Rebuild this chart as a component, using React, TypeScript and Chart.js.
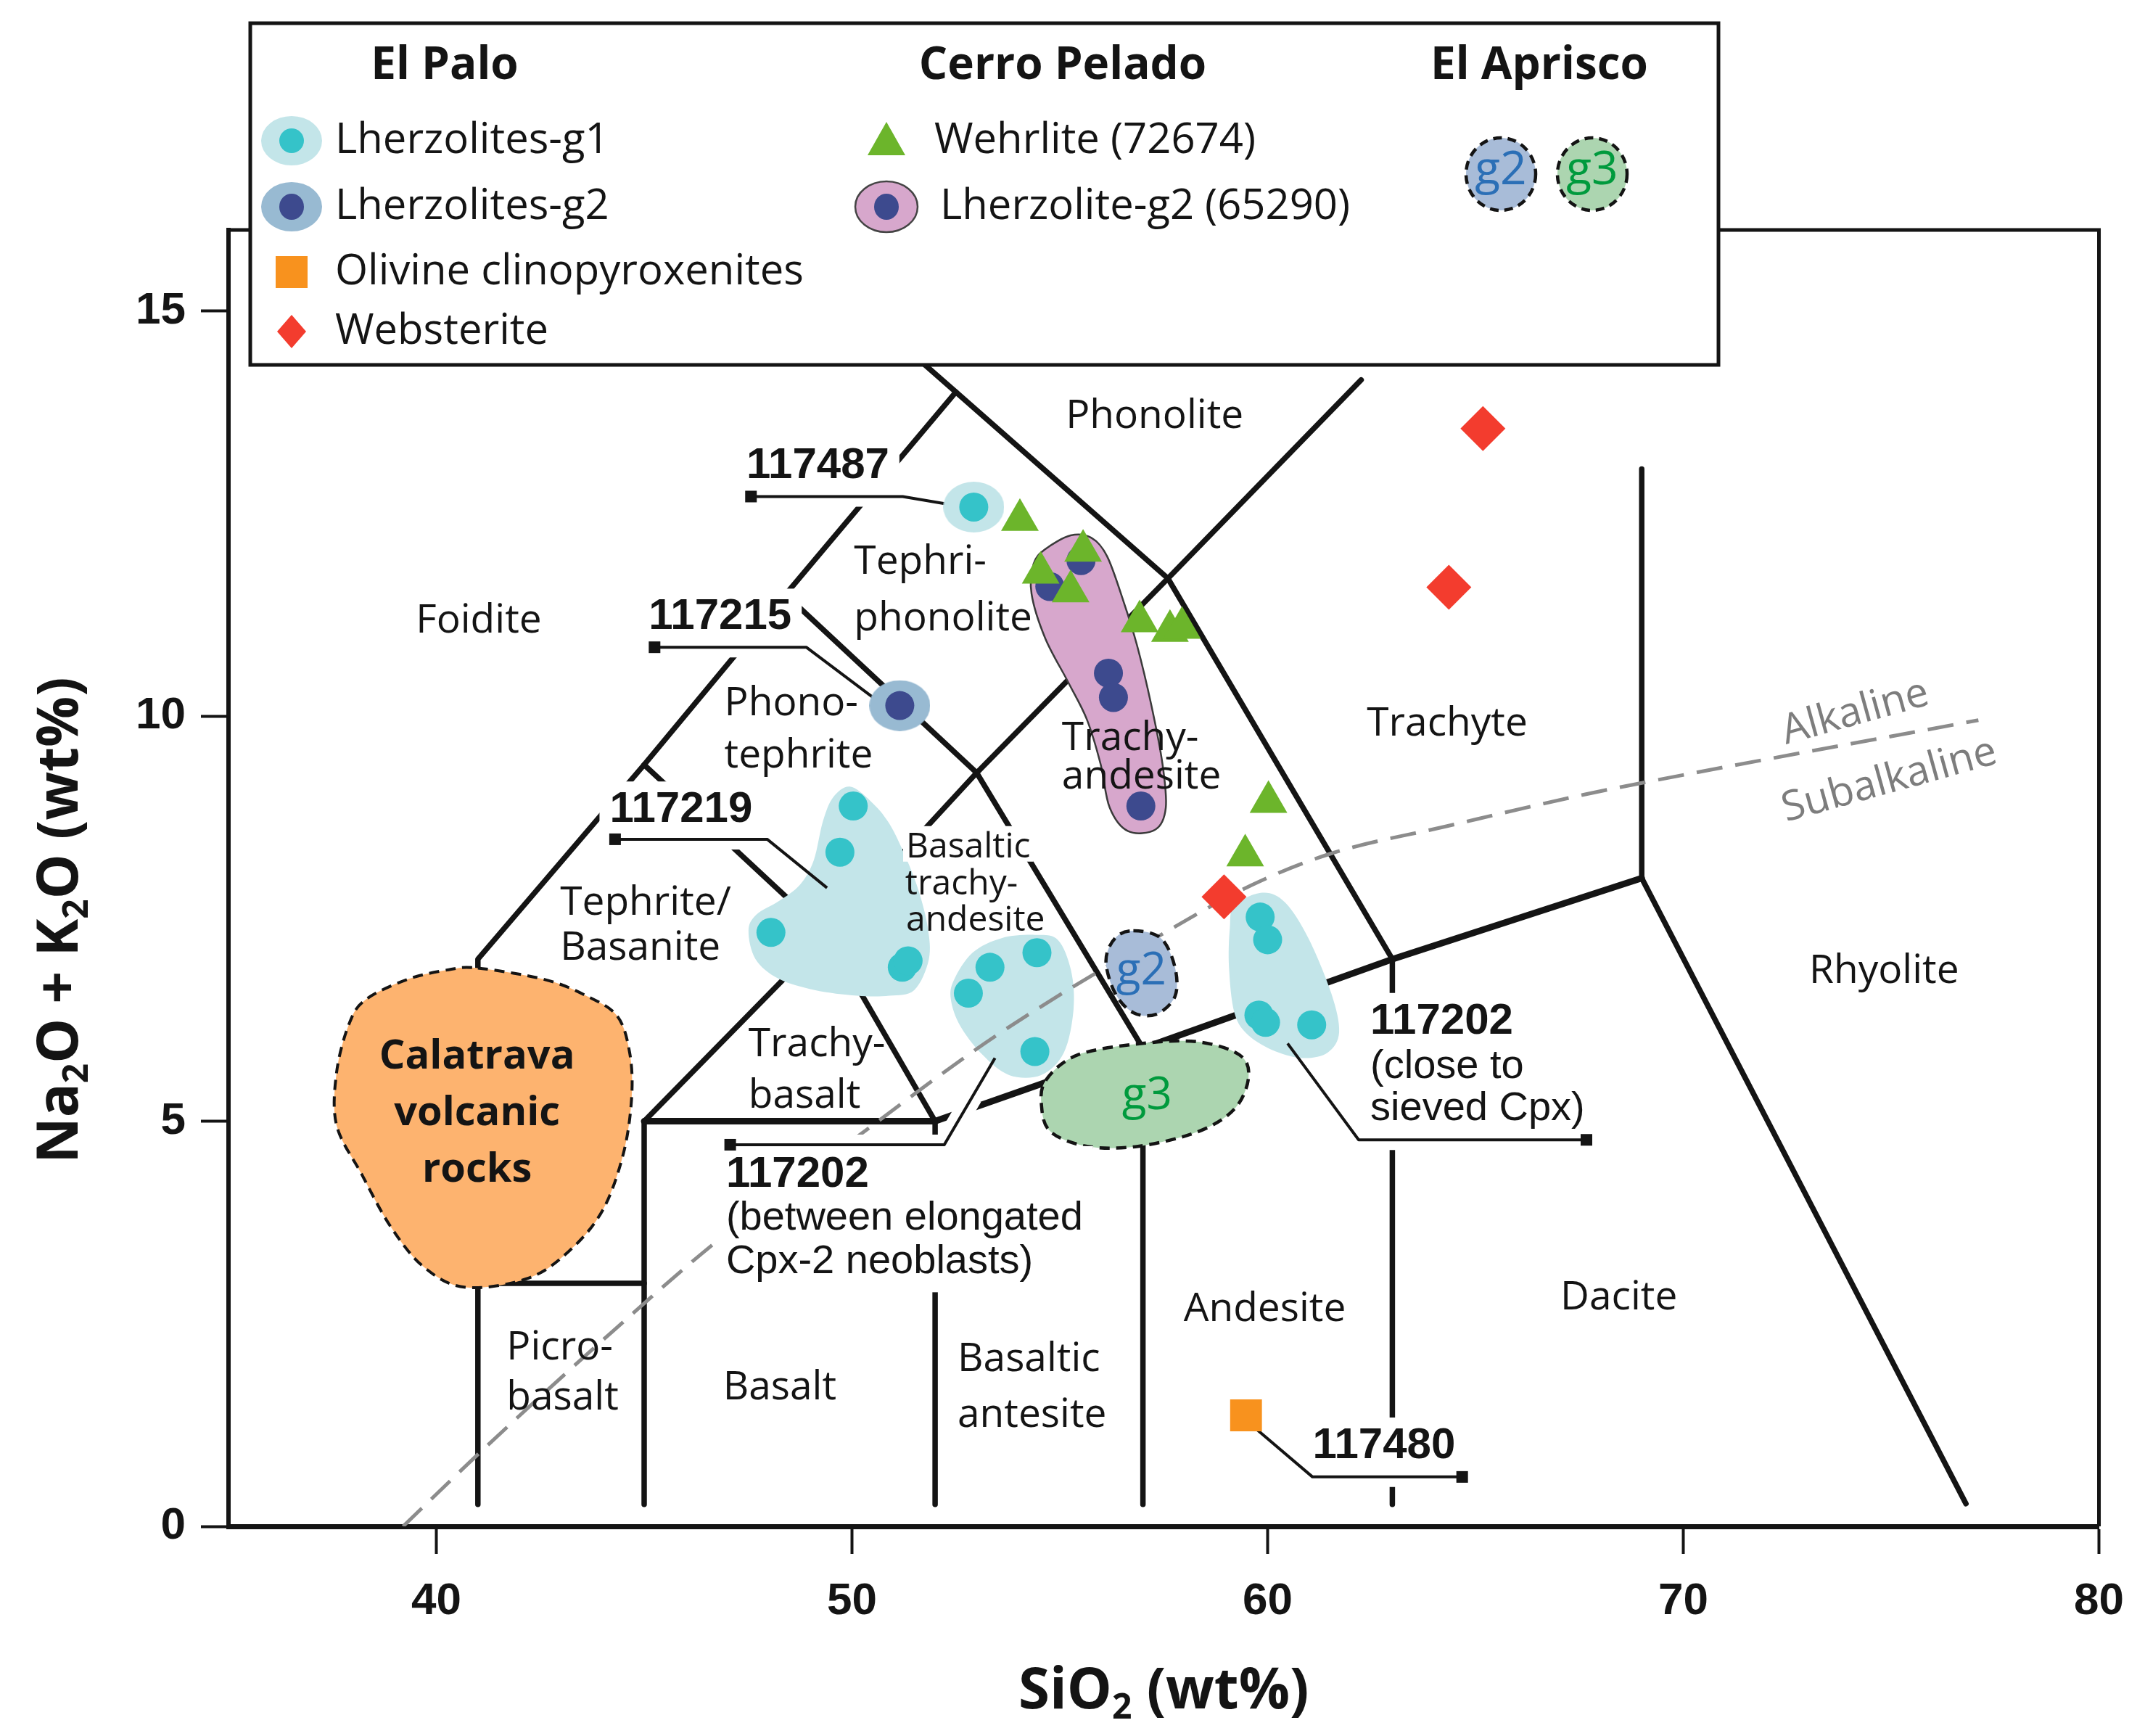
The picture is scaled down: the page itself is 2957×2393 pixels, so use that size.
import React, { useEffect, useRef } from 'react';
import { Chart, registerables } from 'chart.js';

Chart.register(...registerables);

const W = 2957;
const H = 2393;

// ---------- axes ----------
const xTickValues = [40, 50, 60, 70, 80];
const yTickValues = [0, 5, 10, 15];
const xLimits = [35, 80];
const yLimits = [0, 16];

// ---------- legend names ----------
const groupNames = ['El Palo', 'Cerro Pelado', 'El Aprisco'];
const seriesNames = [
  'Lherzolites-g1',
  'Lherzolites-g2',
  'Olivine clinopyroxenites',
  'Websterite',
  'Wehrlite (72674)',
  'Lherzolite-g2 (65290)',
];
const apriscoGroups = ['g2', 'g3'];

// ---------- samples: [SiO2, Na2O+K2O] ----------
const elPaloLherzG1 = [
  [52.93, 12.58], [50.03, 8.89], [49.71, 8.32], [48.05, 7.33], [51.21, 6.9], [51.35, 6.98],
  [54.45, 7.08], [53.32, 6.9], [52.8, 6.58], [54.4, 5.86],
  [59.82, 7.52], [60.0, 7.24], [59.79, 6.31], [59.95, 6.22], [61.06, 6.19],
];
const elPaloLherzG2 = [[51.15, 10.13]];
const elPaloOlCpx = [[59.48, 1.37]];
const elPaloWebsterite = [[65.18, 13.55], [64.36, 11.59], [58.95, 7.77]];
const cerroWehrlite = [
  [54.04, 12.42], [55.56, 12.04], [54.54, 11.77], [55.26, 11.54], [56.92, 11.17],
  [57.65, 11.05], [57.94, 11.09], [60.02, 8.94], [59.46, 8.28],
];
const cerroLherzG2 = [[55.51, 11.92], [54.76, 11.6], [56.17, 10.53], [56.29, 10.23], [56.95, 8.89]];
const haloG1 = [[52.93, 12.58]];
const haloG2 = [[51.15, 10.13]];

// ---------- TAS field boundaries ----------
const tasLines = [
  [[41, 0.27], [41, 7], [45, 9.4], [48.4, 11.5], [52.5, 14]],
  [[45, 0.27], [45, 5]],
  [[41, 3], [45, 3]],
  [[52, 0.27], [52, 5]],
  [[57, 0.27], [57, 5.9]],
  [[63, 0.27], [63, 7]],
  [[45, 9.4], [49.4, 7.3], [52, 5]],
  [[48.4, 11.5], [53, 9.3], [57, 5.9]],
  [[50.9, 14.72], [52.5, 14], [57.6, 11.7], [63, 7]],
  [[45, 5], [49.4, 7.3], [53, 9.3], [57.6, 11.7], [62.25, 14.15]],
  [[69, 8], [69, 13.05]],
  [[69, 8], [76.8, 0.28]],
];
const tasMainChain = [[45, 5], [52, 5], [57, 5.9], [63, 7], [69, 8]];
const alkalineLine = [
  [39.2, 0], [41.15, 0.96], [44.25, 2.41], [46.8, 3.54], [50.1, 4.8], [53.45, 6.05],
  [57.3, 7.26], [59.6, 7.91], [61.5, 8.3], [64.3, 8.64], [67.6, 9.03], [68.85, 9.16], [77.1, 9.95],
];

// ---------- field outlines ----------
const outlineG1Left = [
  [49.95, 9.13], [50.45, 8.95], [50.89, 8.68], [51.3, 8.25], [51.6, 7.85], [51.82, 7.4], [51.85, 7.0],
  [51.5, 6.62], [50.9, 6.55], [50.12, 6.55], [49.1, 6.62], [48.23, 6.76], [47.68, 7.0], [47.51, 7.35],
  [47.7, 7.55], [48.25, 7.72], [48.75, 7.92], [49.08, 8.22], [49.3, 8.7], [49.55, 9.0],
];
const outlineG1Mid = [
  [52.45, 6.74], [52.9, 7.08], [53.6, 7.26], [54.4, 7.3], [54.95, 7.24], [55.27, 6.86], [55.33, 6.38],
  [55.1, 5.85], [54.55, 5.57], [53.78, 5.57], [53.12, 5.83], [52.6, 6.18], [52.38, 6.5],
];
const outlineG1Right = [
  [59.2, 7.66], [59.87, 7.82], [60.42, 7.7], [60.98, 7.26], [61.53, 6.58], [61.72, 6.1], [61.45, 5.85],
  [60.87, 5.78], [60.2, 5.86], [59.54, 6.06], [59.2, 6.34], [59.07, 6.9], [59.09, 7.38],
];
const outlinePink = [
  [54.65, 12.06], [55.26, 12.23], [55.76, 12.2], [56.14, 11.97], [56.53, 11.42], [56.86, 10.87],
  [57.2, 10.14], [57.47, 9.41], [57.55, 8.87], [57.3, 8.6], [56.64, 8.58], [56.2, 8.87], [55.98, 9.41],
  [55.65, 9.96], [55.2, 10.42], [54.65, 10.96], [54.32, 11.51], [54.37, 11.88],
];
const outlineCalatrava = [
  [41.0, 6.89], [42.6, 6.75], [43.6, 6.55], [44.35, 6.3], [44.65, 5.85], [44.7, 5.3], [44.5, 4.6],
  [44.0, 3.9], [43.2, 3.4], [42.2, 3.06], [40.7, 2.95], [39.7, 3.2], [38.9, 3.7], [38.2, 4.35],
  [37.6, 4.95], [37.6, 5.6], [37.9, 6.2], [38.3, 6.5], [39.3, 6.75], [40.3, 6.87],
];
const outlineApriscoG2 = [
  [56.77, 7.35], [57.43, 7.26], [57.77, 6.9], [57.77, 6.54], [57.32, 6.32], [56.77, 6.34],
  [56.33, 6.58], [56.11, 6.98], [56.33, 7.26],
];
const outlineApriscoG3 = [
  [54.67, 5.51], [55.44, 5.82], [56.99, 5.96], [58.32, 5.98], [59.32, 5.82], [59.54, 5.54],
  [59.2, 5.15], [58.32, 4.87], [56.88, 4.69], [55.66, 4.69], [54.78, 4.87], [54.56, 5.19],
];
const apriscoTextAt = [[56.96, 6.85], [57.1, 5.31]];

// ---------- texts ----------
// [text, SiO2, alkali, align, kind]  kind: n = normal, s = small, sb = small on white
const regionLabels = [
  ['Phonolite', 57.28, 13.7, 'c', 'n'],
  ['Tephri-', 50.05, 11.9, 'l', 'n'],
  ['phonolite', 50.05, 11.2, 'l', 'n'],
  ['Foidite', 41.02, 11.17, 'c', 'n'],
  ['Phono-', 46.93, 10.15, 'l', 'n'],
  ['tephrite', 46.93, 9.51, 'l', 'n'],
  ['Trachyte', 64.32, 9.9, 'c', 'n'],
  ['Trachy-', 55.05, 9.72, 'l', 'n'],
  ['andesite', 55.05, 9.25, 'l', 'n'],
  ['Basaltic', 51.3, 8.38, 'l', 'sb'],
  ['trachy-', 51.28, 7.92, 'l', 's'],
  ['andesite', 51.3, 7.47, 'l', 's'],
  ['Tephrite/', 42.98, 7.69, 'l', 'n'],
  ['Basanite', 42.98, 7.13, 'l', 'n'],
  ['Trachy-', 47.51, 5.94, 'l', 'n'],
  ['basalt', 47.51, 5.31, 'l', 'n'],
  ['Picro-', 41.69, 2.2, 'l', 'n'],
  ['basalt', 41.69, 1.58, 'l', 'n'],
  ['Basalt', 48.26, 1.71, 'c', 'n'],
  ['Basaltic', 52.54, 2.06, 'l', 'n'],
  ['antesite', 52.54, 1.37, 'l', 'n'],
  ['Andesite', 59.93, 2.67, 'c', 'n'],
  ['Dacite', 68.45, 2.82, 'c', 'n'],
  ['Rhyolite', 74.83, 6.85, 'c', 'n'],
];
const calatravaLines = ['Calatrava', 'volcanic', 'rocks'];
const calatravaAt = [[40.98, 5.79], [40.98, 5.09], [40.98, 4.4]];
const seriesBoundaryLabels = [['Alkaline', 74.14, 10.04], ['Subalkaline', 74.96, 9.2]];

const sampleTags = [
  { x: 47.46, rows: [['117487', 13.09, 'b']], leader: [[47.57, 12.71], [51.22, 12.71], [52.72, 12.58]] },
  { x: 45.11, rows: [['117215', 11.22, 'b']], leader: [[45.25, 10.85], [48.9, 10.85], [50.61, 10.19]] },
  { x: 44.17, rows: [['117219', 8.84, 'b']], leader: [[44.3, 8.48], [47.96, 8.48], [49.4, 7.88]] },
  {
    x: 46.97,
    rows: [['117202', 4.34, 'b'], ['(between elongated', 3.8, 'r'], ['Cpx-2 neoblasts)', 3.26, 'r']],
    leader: [[47.07, 4.71], [52.22, 4.71], [53.44, 5.78]],
  },
  {
    x: 62.47,
    rows: [['117202', 6.23, 'b'], ['(close to', 5.67, 'r'], ['sieved Cpx)', 5.15, 'r']],
    leader: [[67.67, 4.77], [62.19, 4.77], [60.48, 5.96]],
  },
  { x: 61.08, rows: [['117480', 0.99, 'b']], leader: [[64.68, 0.61], [61.08, 0.61], [59.57, 1.27]] },
];

// ---------- styles ----------
const INK = '#141414';
const SANS = '"Open Sans", "Noto Sans", sans-serif';
const ARIAL = '"Liberation Sans", Arial, sans-serif';
const C_CYAN = '#35c3c9';
const C_CYAN_LIGHT = '#c3e5e9';
const C_NAVY = '#3d4a8e';
const C_STEEL = '#98bad2';
const C_PINK = '#d7a7cc';
const C_ORANGE = '#f8921e';
const C_RED = '#f33c2e';
const C_GREEN = '#6cb52b';
const C_CALATRAVA = '#fdb36f';
const C_G2 = '#a8bcd8';
const C_G2_TEXT = '#2b6fb6';
const C_G3 = '#acd5b0';
const C_G3_TEXT = '#009a3d';
const ALK = '__alkaline__';

type Pt = number[];

function toXY(arr: Pt[]) {
  return arr.map((p) => ({ x: p[0], y: p[1] }));
}

function ellipseImage(rx: number, ry: number, color: string) {
  const c = document.createElement('canvas');
  c.width = rx * 2;
  c.height = ry * 2;
  const g = c.getContext('2d')!;
  g.fillStyle = color;
  g.beginPath();
  g.ellipse(rx, ry, rx, ry, 0, 0, Math.PI * 2);
  g.fill();
  return c;
}

function P(chart: any, p: Pt) {
  return [chart.scales.x.getPixelForValue(p[0]), chart.scales.y.getPixelForValue(p[1])];
}

function smoothClosed(ctx: CanvasRenderingContext2D, pts: number[][]) {
  const n = pts.length;
  ctx.beginPath();
  ctx.moveTo(pts[0][0], pts[0][1]);
  for (let i = 0; i < n; i++) {
    const p0 = pts[(i - 1 + n) % n];
    const p1 = pts[i];
    const p2 = pts[(i + 1) % n];
    const p3 = pts[(i + 2) % n];
    ctx.bezierCurveTo(
      p1[0] + (p2[0] - p0[0]) / 6, p1[1] + (p2[1] - p0[1]) / 6,
      p2[0] - (p3[0] - p1[0]) / 6, p2[1] - (p3[1] - p1[1]) / 6,
      p2[0], p2[1],
    );
  }
  ctx.closePath();
}

function drawOutline(chart: any, outline: Pt[], fill: string, stroke?: string, lw?: number, dash?: number[]) {
  const ctx: CanvasRenderingContext2D = chart.ctx;
  ctx.save();
  smoothClosed(ctx, outline.map((p) => P(chart, p)));
  ctx.fillStyle = fill;
  ctx.fill();
  if (stroke) {
    ctx.setLineDash(dash || []);
    ctx.lineWidth = lw || 2;
    ctx.strokeStyle = stroke;
    ctx.stroke();
  }
  ctx.restore();
}

function drawTags(chart: any) {
  const ctx: CanvasRenderingContext2D = chart.ctx;
  const BOLD = `bold 60px ${ARIAL}`;
  const REG = `56px ${ARIAL}`;
  ctx.save();
  ctx.textBaseline = 'middle';
  ctx.textAlign = 'left';
  for (const tag of sampleTags) {
    const x0 = chart.scales.x.getPixelForValue(tag.x);
    let top = Infinity;
    let bottom = -Infinity;
    let right = -Infinity;
    for (const row of tag.rows) {
      ctx.font = row[2] === 'b' ? BOLD : REG;
      const m = ctx.measureText(row[0] as string);
      const yy = chart.scales.y.getPixelForValue(row[1]);
      top = Math.min(top, yy - m.actualBoundingBoxAscent);
      bottom = Math.max(bottom, yy + m.actualBoundingBoxDescent);
      right = Math.max(right, x0 + m.width);
    }
    const pad = 14;
    ctx.fillStyle = '#ffffff';
    ctx.fillRect(x0 - pad, top - pad, right - x0 + 2 * pad, bottom - top + 2 * pad);

    const pts = tag.leader.map((p) => P(chart, p));
    const a = pts[pts.length - 2];
    const b = pts[pts.length - 1];
    ctx.strokeStyle = '#ffffff';
    ctx.lineWidth = 28;
    ctx.lineJoin = 'round';
    ctx.lineCap = 'butt';
    ctx.beginPath();
    ctx.moveTo(pts[0][0], pts[0][1]);
    for (let i = 1; i < pts.length - 1; i++) ctx.lineTo(pts[i][0], pts[i][1]);
    ctx.lineTo(a[0] + (b[0] - a[0]) * 0.55, a[1] + (b[1] - a[1]) * 0.55);
    ctx.stroke();

    ctx.strokeStyle = INK;
    ctx.lineWidth = 4;
    ctx.beginPath();
    ctx.moveTo(pts[0][0], pts[0][1]);
    for (let i = 1; i < pts.length; i++) ctx.lineTo(pts[i][0], pts[i][1]);
    ctx.stroke();
    ctx.fillStyle = INK;
    ctx.fillRect(pts[0][0] - 8, pts[0][1] - 8, 16, 16);

    for (const row of tag.rows) {
      ctx.font = row[2] === 'b' ? BOLD : REG;
      ctx.fillText(row[0] as string, x0, chart.scales.y.getPixelForValue(row[1]));
    }
  }
  ctx.restore();
}

function drawRegionTexts(chart: any) {
  const ctx: CanvasRenderingContext2D = chart.ctx;
  ctx.save();
  ctx.textBaseline = 'middle';
  for (const [t, x, y, al, kind] of regionLabels as any[]) {
    ctx.font = kind === 'n' ? `55px ${SANS}` : `48px ${SANS}`;
    ctx.textAlign = al === 'c' ? 'center' : 'left';
    const [px, py] = P(chart, [x, y]);
    if (kind === 'sb') {
      const m = ctx.measureText(t);
      ctx.fillStyle = '#ffffff';
      ctx.fillRect(px - 4, py - m.actualBoundingBoxAscent - 6, m.width + 8, m.actualBoundingBoxAscent + m.actualBoundingBoxDescent + 12);
    }
    ctx.fillStyle = INK;
    ctx.fillText(t, px, py);
  }
  ctx.fillStyle = INK;
  ctx.font = `bold 56px ${SANS}`;
  ctx.textAlign = 'center';
  calatravaLines.forEach((t, i) => {
    const [px, py] = P(chart, calatravaAt[i]);
    ctx.fillText(t, px, py);
  });
  ctx.fillStyle = '#7d7d7d';
  ctx.font = `57px ${SANS}`;
  for (const [t, x, y] of seriesBoundaryLabels as any[]) {
    const [px, py] = P(chart, [x, y]);
    ctx.save();
    ctx.translate(px, py);
    ctx.rotate((-15.5 * Math.PI) / 180);
    ctx.fillText(t, 0, 0);
    ctx.restore();
  }
  ctx.restore();
}

function drawApriscoFields(chart: any) {
  const ctx: CanvasRenderingContext2D = chart.ctx;
  drawOutline(chart, outlineApriscoG2, C_G2, INK, 4.5, [14, 9]);
  drawOutline(chart, outlineApriscoG3, C_G3, INK, 4.5, [14, 9]);
  ctx.save();
  ctx.textAlign = 'center';
  ctx.textBaseline = 'middle';
  ctx.font = `62px ${SANS}`;
  const cols = [C_G2_TEXT, C_G3_TEXT];
  apriscoGroups.forEach((t, i) => {
    const [px, py] = P(chart, apriscoTextAt[i]);
    ctx.fillStyle = cols[i];
    ctx.fillText(t, px, py);
  });
  ctx.restore();
}

function drawRich(ctx: CanvasRenderingContext2D, parts: [string, boolean][], cx: number, cy: number, rot: number) {
  const big = `bold 78px ${SANS}`;
  const small = `bold 48px ${SANS}`;
  ctx.save();
  ctx.translate(cx, cy);
  ctx.rotate(rot);
  ctx.fillStyle = INK;
  ctx.textBaseline = 'alphabetic';
  ctx.textAlign = 'left';
  let total = 0;
  for (const [t, sub] of parts) {
    ctx.font = sub ? small : big;
    total += ctx.measureText(t).width;
  }
  let x = -total / 2;
  for (const [t, sub] of parts) {
    ctx.font = sub ? small : big;
    ctx.fillText(t, x, sub ? 42 : 28);
    x += ctx.measureText(t).width;
  }
  ctx.restore();
}

function drawLegend(ctx: CanvasRenderingContext2D) {
  const L = 345, T = 32, R = 2369, B = 503;
  ctx.save();
  ctx.fillStyle = '#ffffff';
  ctx.fillRect(L, T, R - L, B - T);
  ctx.lineWidth = 5;
  ctx.strokeStyle = INK;
  ctx.strokeRect(L, T, R - L, B - T);

  ctx.fillStyle = INK;
  ctx.textBaseline = 'middle';
  ctx.textAlign = 'center';
  ctx.font = `bold 62px ${SANS}`;
  const hx = [613, 1465, 2122];
  groupNames.forEach((g, i) => ctx.fillText(g, hx[i], 91));

  const rowY = [194, 285, 375, 457];
  const ix1 = 402, tx1 = 462, ix2 = 1222;
  ctx.fillStyle = C_CYAN_LIGHT;
  ctx.beginPath(); ctx.ellipse(ix1, rowY[0], 42, 34, 0, 0, Math.PI * 2); ctx.fill();
  ctx.fillStyle = C_CYAN;
  ctx.beginPath(); ctx.ellipse(ix1, rowY[0], 17, 17, 0, 0, Math.PI * 2); ctx.fill();
  ctx.fillStyle = C_STEEL;
  ctx.beginPath(); ctx.ellipse(ix1, rowY[1], 42, 34, 0, 0, Math.PI * 2); ctx.fill();
  ctx.fillStyle = C_NAVY;
  ctx.beginPath(); ctx.ellipse(ix1, rowY[1], 17, 18, 0, 0, Math.PI * 2); ctx.fill();
  ctx.fillStyle = C_ORANGE;
  ctx.fillRect(ix1 - 22, rowY[2] - 22, 44, 44);
  ctx.fillStyle = C_RED;
  ctx.beginPath();
  ctx.moveTo(ix1, rowY[3] - 23); ctx.lineTo(ix1 + 20, rowY[3]); ctx.lineTo(ix1, rowY[3] + 23); ctx.lineTo(ix1 - 20, rowY[3]);
  ctx.closePath(); ctx.fill();
  ctx.fillStyle = C_GREEN;
  ctx.beginPath();
  ctx.moveTo(ix2, rowY[0] - 26); ctx.lineTo(ix2 + 26, rowY[0] + 20); ctx.lineTo(ix2 - 26, rowY[0] + 20);
  ctx.closePath(); ctx.fill();
  ctx.fillStyle = C_PINK;
  ctx.strokeStyle = '#444';
  ctx.lineWidth = 2.5;
  ctx.beginPath(); ctx.ellipse(ix2, rowY[1], 43, 35, 0, 0, Math.PI * 2); ctx.fill(); ctx.stroke();
  ctx.fillStyle = C_NAVY;
  ctx.beginPath(); ctx.ellipse(ix2, rowY[1], 17, 18, 0, 0, Math.PI * 2); ctx.fill();

  ctx.fillStyle = INK;
  ctx.textAlign = 'left';
  ctx.font = `58px ${SANS}`;
  ctx.fillText(seriesNames[0], tx1, rowY[0]);
  ctx.fillText(seriesNames[1], tx1, rowY[1]);
  ctx.fillText(seriesNames[2], tx1, rowY[2]);
  ctx.fillText(seriesNames[3], tx1, rowY[3]);
  ctx.fillText(seriesNames[4], 1288, rowY[0]);
  ctx.fillText(seriesNames[5], 1296, rowY[1]);

  const cx = [2069, 2195];
  const fills = [C_G2, C_G3];
  const tcol = [C_G2_TEXT, C_G3_TEXT];
  apriscoGroups.forEach((g, i) => {
    ctx.fillStyle = fills[i];
    ctx.beginPath(); ctx.ellipse(cx[i], 240, 48, 50, 0, 0, Math.PI * 2); ctx.fill();
    ctx.setLineDash([12, 8]);
    ctx.lineWidth = 4.5;
    ctx.strokeStyle = INK;
    ctx.stroke();
    ctx.setLineDash([]);
    ctx.fillStyle = tcol[i];
    ctx.textAlign = 'center';
    ctx.font = `64px ${SANS}`;
    ctx.fillText(g, cx[i], 236);
  });
  ctx.restore();
}

const decorPlugin = {
  id: 'tasDecor',
  beforeDatasetsDraw(chart: any) {
    const { ctx, chartArea: a } = chart;
    ctx.save();
    ctx.strokeStyle = INK;
    ctx.lineWidth = 5;
    ctx.beginPath();
    ctx.moveTo(a.left, a.top);
    ctx.lineTo(a.right, a.top);
    ctx.lineTo(a.right, a.bottom);
    ctx.stroke();
    ctx.restore();
  },
  beforeDatasetDraw(chart: any, args: any) {
    if (chart.data.datasets[args.index].label !== ALK) return;
    drawOutline(chart, outlineCalatrava, C_CALATRAVA, INK, 4, [14, 9]);
    drawOutline(chart, outlinePink, C_PINK, '#3a3a3a', 2.5);
    drawOutline(chart, outlineG1Left, C_CYAN_LIGHT);
    drawOutline(chart, outlineG1Mid, C_CYAN_LIGHT);
    drawOutline(chart, outlineG1Right, C_CYAN_LIGHT);
  },
  afterDatasetDraw(chart: any, args: any) {
    if (chart.data.datasets[args.index].label !== ALK) return;
    drawApriscoFields(chart);
    drawTags(chart);
    drawRegionTexts(chart);
  },
  afterDraw(chart: any) {
    const { ctx, chartArea: a } = chart;
    drawLegend(ctx);
    drawRich(ctx, [['SiO', false], ['2', true], [' (wt%)', false]], (a.left + a.right) / 2, a.bottom + 223, 0);
    drawRich(
      ctx,
      [['Na', false], ['2', true], ['O + K', false], ['2', true], ['O (wt%)', false]],
      79,
      (a.top + a.bottom) / 2 + 58,
      -Math.PI / 2,
    );
  },
};

function buildConfig(): any {
  const lineDs = (pts: Pt[], width: number) => ({
    label: 'TAS',
    data: toXY(pts),
    showLine: true,
    borderColor: INK,
    borderWidth: width,
    pointRadius: 0,
    fill: false,
    tension: 0,
    borderCapStyle: 'round',
    borderJoinStyle: 'round',
    order: 10,
  });
  const datasets: any[] = [
    { label: seriesNames[4], data: toXY(cerroWehrlite), pointStyle: 'triangle', pointRadius: 30, backgroundColor: C_GREEN, borderWidth: 0, order: 1 },
    { label: seriesNames[3], data: toXY(elPaloWebsterite), pointStyle: 'rectRot', pointRadius: 31, backgroundColor: C_RED, borderWidth: 0, order: 1 },
    { label: seriesNames[2], data: toXY(elPaloOlCpx), pointStyle: 'rect', pointRadius: 31, backgroundColor: C_ORANGE, borderWidth: 0, order: 1 },
    { label: seriesNames[5], data: toXY(cerroLherzG2), pointStyle: 'circle', pointRadius: 20, backgroundColor: C_NAVY, borderWidth: 0, order: 2 },
    { label: seriesNames[1], data: toXY(elPaloLherzG2), pointStyle: 'circle', pointRadius: 20, backgroundColor: C_NAVY, borderWidth: 0, order: 2 },
    { label: seriesNames[0], data: toXY(elPaloLherzG1), pointStyle: 'circle', pointRadius: 20, backgroundColor: C_CYAN, borderWidth: 0, order: 2 },
    { label: 'halo-g1', data: toXY(haloG1), pointStyle: ellipseImage(42, 35, C_CYAN_LIGHT), pointRadius: 40, order: 3 },
    { label: 'halo-g2', data: toXY(haloG2), pointStyle: ellipseImage(42, 35, C_STEEL), pointRadius: 40, order: 3 },
    {
      label: ALK,
      data: toXY(alkalineLine),
      showLine: true,
      borderColor: '#8c8c8c',
      borderWidth: 5,
      borderDash: [36, 18],
      pointRadius: 0,
      fill: false,
      cubicInterpolationMode: 'monotone',
      order: 5,
    },
    ...tasLines.map((l) => lineDs(l, 7.5)),
    lineDs(tasMainChain, 9),
  ];

  const tickFont = { family: '"Liberation Sans", Arial, sans-serif', weight: 'bold', size: 62 };
  return {
    type: 'scatter',
    data: { datasets },
    options: {
      responsive: false,
      maintainAspectRatio: false,
      animation: false,
      devicePixelRatio: 1,
      events: [],
      layout: { padding: { top: 317, right: 60, left: 0, bottom: 0 } },
      plugins: { legend: { display: false }, tooltip: { enabled: false }, title: { display: false } },
      scales: {
        x: {
          type: 'linear',
          min: xLimits[0],
          max: xLimits[1],
          afterBuildTicks: (s: any) => {
            s.ticks = xTickValues.map((v) => ({ value: v }));
          },
          afterFit: (s: any) => {
            s.height = 289;
          },
          ticks: { font: tickFont, color: INK, padding: 29, maxRotation: 0, autoSkip: false },
          grid: { display: true, drawOnChartArea: false, drawTicks: true, tickLength: 38, tickWidth: 4, tickColor: INK, color: INK },
          border: { display: true, color: INK, width: 7 },
        },
        y: {
          type: 'linear',
          min: yLimits[0],
          max: yLimits[1],
          afterBuildTicks: (s: any) => {
            s.ticks = yTickValues.map((v) => ({ value: v }));
          },
          afterFit: (s: any) => {
            s.width = 315;
          },
          ticks: { font: tickFont, color: INK, padding: 21, autoSkip: false },
          grid: { display: true, drawOnChartArea: false, drawTicks: true, tickLength: 38, tickWidth: 4, tickColor: INK, color: INK },
          border: { display: true, color: INK, width: 6 },
        },
      },
    },
    plugins: [decorPlugin],
  };
}

export default function App() {
  const ref = useRef<HTMLCanvasElement | null>(null);
  useEffect(() => {
    const canvas = ref.current;
    if (!canvas) return;
    const chart = new Chart(canvas, buildConfig());
    return () => chart.destroy();
  }, []);
  return (
    <div style={{ position: 'fixed', left: 0, top: 0, width: W, height: H, background: '#ffffff' }}>
      <canvas ref={ref} width={W} height={H} style={{ width: W, height: H, display: 'block' }} />
    </div>
  );
}
